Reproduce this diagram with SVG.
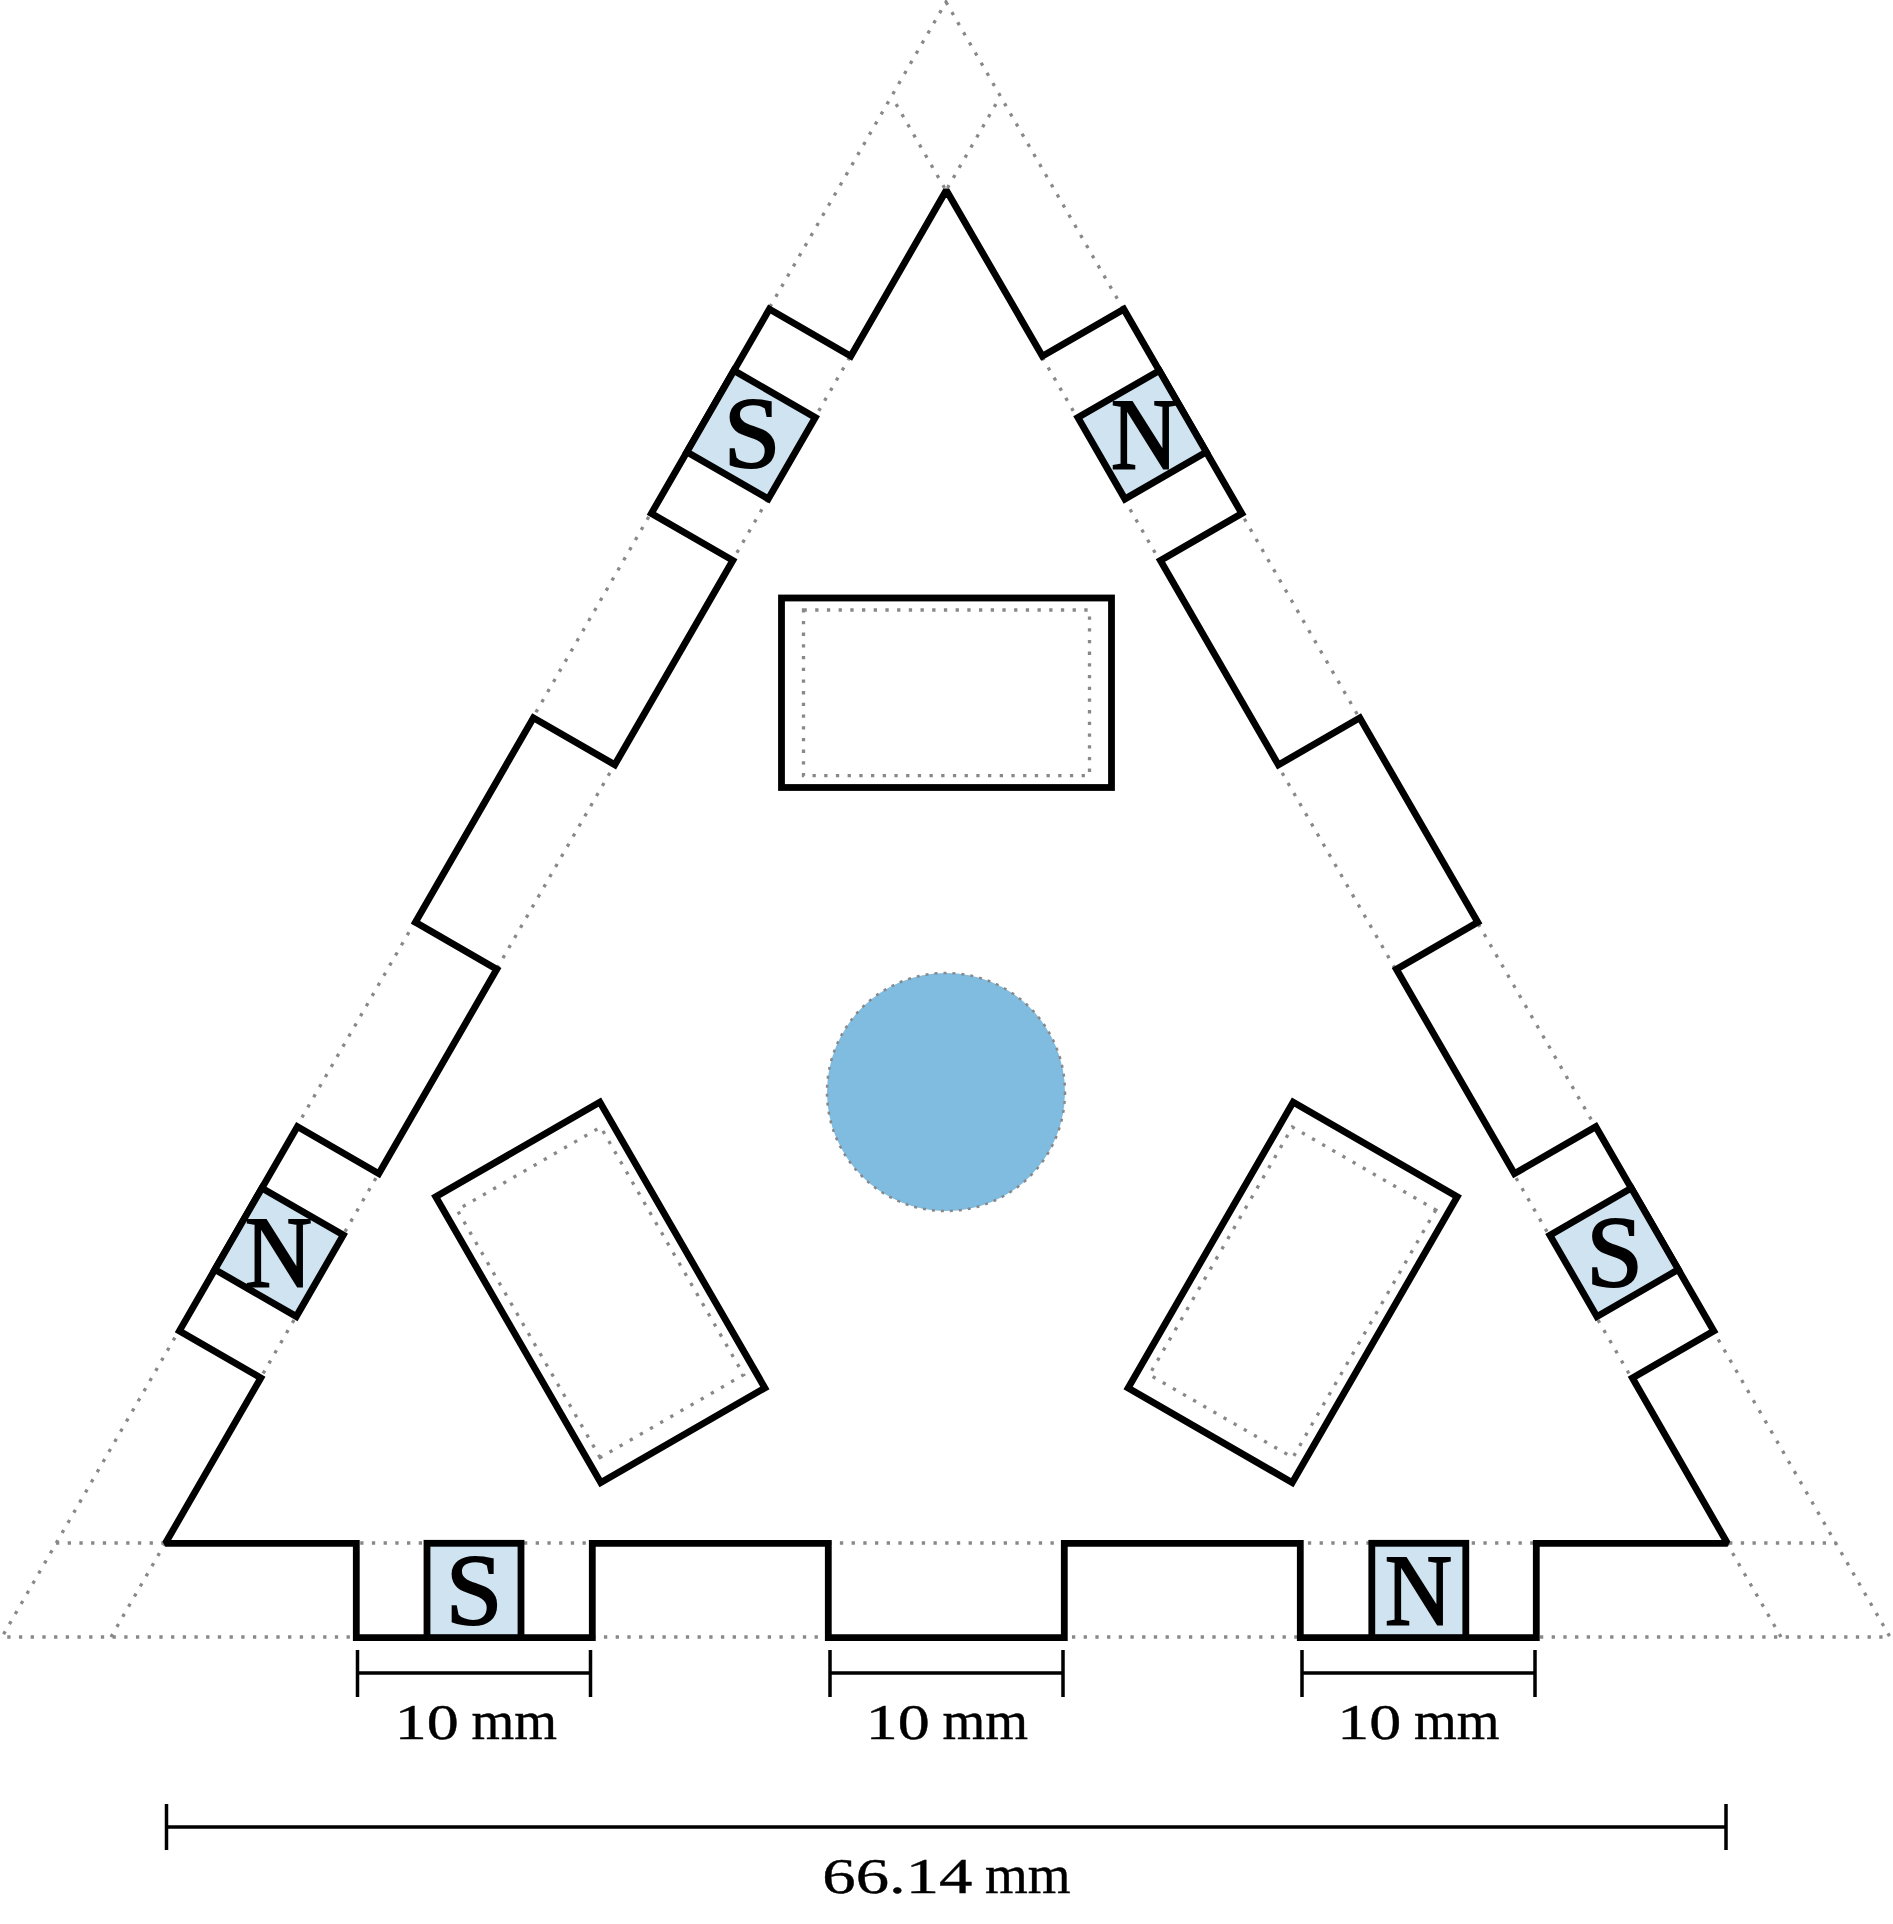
<svg xmlns="http://www.w3.org/2000/svg" width="1893" height="1924" viewBox="0 0 1893 1924">
<style>
.dot{fill:none;stroke:#888;stroke-width:3.3;stroke-dasharray:3.3 8.4}
.solid{fill:none;stroke:#000;stroke-width:6.8;stroke-linejoin:miter;stroke-miterlimit:1.8}
.mag{fill:#cfe4f0;stroke:#000;stroke-width:6.8}
.dim{fill:none;stroke:#000;stroke-width:3.5}
.pole{font-family:"Liberation Serif","Times New Roman",serif;font-size:102px;text-anchor:middle;fill:#000;stroke:#000;stroke-width:2}
.lab{font-family:"Liberation Serif","Times New Roman",serif;font-size:51px;text-anchor:middle;fill:#000;stroke:#000;stroke-width:.4}
.mm{font-size:55px}
</style>
<defs>
<g id="window">
<rect x="781.5" y="598" width="330" height="189.5" class="solid"/>
<rect x="803.5" y="610" width="286" height="165.7" class="dot"/>
</g>
</defs>
<g id="guides">
<path class="dot" d="M946 2L1890 1637L2 1637Z"/>
<path class="dot" d="M56 1543L1836 1543"/>
<path class="dot" d="M111 1637L1000 97"/>
<path class="dot" d="M1781 1637L892 97"/>
</g>
<g id="body">
<path class="solid" d="M165.4 1543.3L356.3 1543.3L356.3 1637.6L592.3 1637.6L592.3 1543.3L828.3 1543.3L828.3 1637.6L1064.3 1637.6L1064.3 1543.3L1300.3 1543.3L1300.3 1637.6L1536.3 1637.6L1536.3 1543.3L1727.4 1543.3L1632.4 1378L1713.8 1331L1595.8 1126.7L1514.4 1173.7L1396.4 969.3L1477.8 922.3L1359.8 717.9L1278.4 764.9L1160.4 560.5L1241.8 513.5L1123.8 309.2L1042.4 356.2L946.3 190.3L850.8 356.1L769.4 309.1L651.4 513.4L732.8 560.4L614.8 764.8L533.4 717.8L415.4 922.2L496.8 969.2L378.8 1173.6L297.4 1126.6L179.4 1330.9L260.8 1377.9Z"/>
</g>
<g id="hub"><circle cx="946" cy="1092" r="119" fill="#7fbce0" stroke="#888" stroke-width="2.5" stroke-dasharray="3 6"/></g>
<g id="window-top"><use href="#window"/></g>
<g id="window-left"><use href="#window" transform="rotate(-120 946.5 1092.5)"/></g>
<g id="window-right"><use href="#window" transform="rotate(120 946.5 1092.5)"/></g>
<g id="magnet-bottom-s"><rect class="mag" x="427" y="1543.3" width="94" height="94.3"/><text class="pole" x="474.2" y="1625">S</text></g>
<g id="magnet-bottom-n"><rect class="mag" x="1371.8" y="1543.3" width="94" height="94.3"/><text class="pole" x="1418.6" y="1625" textLength="67" lengthAdjust="spacingAndGlyphs">N</text></g>
<g id="magnet-right-s"><rect class="mag" x="1567.1" y="1205.4" width="94" height="94" transform="rotate(-120 1614.1 1252.4)"/><text class="pole" x="1614.5" y="1287">S</text></g>
<g id="magnet-right-n"><rect class="mag" x="1095.1" y="387.8" width="94" height="94" transform="rotate(-120 1142.1 434.8)"/><text class="pole" x="1144.5" y="468.5" textLength="67" lengthAdjust="spacingAndGlyphs">N</text></g>
<g id="magnet-left-s"><rect class="mag" x="704.1" y="387.7" width="94" height="94" transform="rotate(120 751.1 434.7)"/><text class="pole" x="752" y="468">S</text></g>
<g id="magnet-left-n"><rect class="mag" x="232.1" y="1205.3" width="94" height="94" transform="rotate(120 279.1 1252.3)"/><text class="pole" x="278.5" y="1287" textLength="67" lengthAdjust="spacingAndGlyphs">N</text></g>
<g id="dimensions">
<path class="dim" d="M357.5 1650V1697M590.5 1650V1697M357.5 1673H590.5"/>
<path class="dim" d="M830 1650V1697M1063 1650V1697M830 1673H1063"/>
<path class="dim" d="M1302 1650V1697M1535 1650V1697M1302 1673H1535"/>
<path class="dim" d="M166.5 1804V1850M1726 1804V1850M166.5 1827H1726"/>
<text class="lab" x="476" y="1739"><tspan textLength="64" lengthAdjust="spacingAndGlyphs">10</tspan> <tspan class="mm">mm</tspan></text>
<text class="lab" x="947" y="1739"><tspan textLength="64" lengthAdjust="spacingAndGlyphs">10</tspan> <tspan class="mm">mm</tspan></text>
<text class="lab" x="1418.5" y="1739"><tspan textLength="64" lengthAdjust="spacingAndGlyphs">10</tspan> <tspan class="mm">mm</tspan></text>
<text class="lab" x="946.5" y="1893"><tspan textLength="150" lengthAdjust="spacingAndGlyphs">66.14</tspan> <tspan class="mm">mm</tspan></text>
</g>
</svg>
